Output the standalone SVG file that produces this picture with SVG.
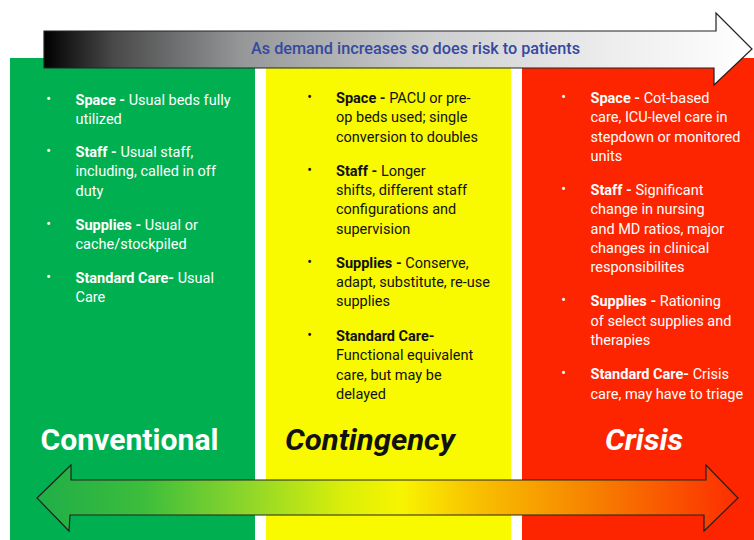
<svg xmlns="http://www.w3.org/2000/svg" width="754" height="540" viewBox="0 0 754 540">
<defs>
<linearGradient id="gTop" x1="44" y1="0" x2="752" y2="0" gradientUnits="userSpaceOnUse">
<stop offset="0" stop-color="#000"/>
<stop offset="0.1" stop-color="#4a4a4a"/>
<stop offset="0.28" stop-color="#959799"/>
<stop offset="0.55" stop-color="#cdcecf"/>
<stop offset="0.8" stop-color="#ededee"/>
<stop offset="1" stop-color="#fff"/>
</linearGradient>
<linearGradient id="gBot" x1="37" y1="0" x2="738" y2="0" gradientUnits="userSpaceOnUse">
<stop offset="0" stop-color="#1fae48"/>
<stop offset="0.15" stop-color="#3cbd3c"/>
<stop offset="0.3" stop-color="#8ed62a"/>
<stop offset="0.44" stop-color="#dcef08"/>
<stop offset="0.52" stop-color="#f8f400"/>
<stop offset="0.62" stop-color="#f8c400"/>
<stop offset="0.8" stop-color="#f77e00"/>
<stop offset="1" stop-color="#fd2d00"/>
</linearGradient>
</defs>
<style>
.body{font-family:Roboto,"Liberation Sans",sans-serif;font-size:14.5px}
.b{font-weight:700}
.bul{font-family:Roboto,"Liberation Sans",sans-serif;font-size:14px;text-anchor:middle}
.head{font-family:Roboto,"Liberation Sans",sans-serif;font-size:29px;font-weight:700}
.wt{fill:#fff}
.bk{fill:#111}
.arrow{stroke:#222;stroke-width:1.2}
</style>
<rect x="0" y="0" width="754" height="540" fill="#fff"/>

<g id="conventional">
<rect x="10" y="58" width="245" height="482" fill="#00b050"/>
<g class="bul wt">
<text x="48.5" y="103.5">•</text>
<text x="48.5" y="156">•</text>
<text x="48.5" y="228.5">•</text>
<text x="48.5" y="282">•</text>
</g>
<text class="body wt" x="75.5">
<tspan x="75.5" y="104.5"><tspan class="b">Space -</tspan> Usual beds fully</tspan>
<tspan x="75.5" y="123.8">utilized</tspan>
<tspan x="75.5" y="157"><tspan class="b">Staff -</tspan> Usual staff,</tspan>
<tspan x="75.5" y="176.3">including, called in off</tspan>
<tspan x="75.5" y="195.6">duty</tspan>
<tspan x="75.5" y="229.5"><tspan class="b">Supplies -</tspan> Usual or</tspan>
<tspan x="75.5" y="248.8">cache/stockpiled</tspan>
<tspan x="75.5" y="283"><tspan class="b">Standard Care-</tspan> Usual</tspan>
<tspan x="75.5" y="302.3">Care</tspan>
</text>
<text class="head wt" x="40.5" y="450" textLength="178" lengthAdjust="spacingAndGlyphs">Conventional</text>
</g>

<g id="contingency">
<rect x="266" y="58" width="245" height="482" fill="#f9fa00"/>
<g class="bul bk">
<text x="309.5" y="102">•</text>
<text x="309.5" y="174.6">•</text>
<text x="309.5" y="266.8">•</text>
<text x="309.5" y="340">•</text>
</g>
<text class="body bk" x="336">
<tspan x="336" y="103"><tspan class="b">Space -</tspan> PACU or pre-</tspan>
<tspan x="336" y="122.3">op beds used; single</tspan>
<tspan x="336" y="141.6">conversion to doubles</tspan>
<tspan x="336" y="175.6"><tspan class="b">Staff -</tspan> Longer</tspan>
<tspan x="336" y="195">shifts, different staff</tspan>
<tspan x="336" y="214.3">configurations and</tspan>
<tspan x="336" y="233.6">supervision</tspan>
<tspan x="336" y="267.8"><tspan class="b">Supplies -</tspan> Conserve,</tspan>
<tspan x="336" y="287.1">adapt, substitute, re-use</tspan>
<tspan x="336" y="306.4">supplies</tspan>
<tspan x="336" y="341"><tspan class="b">Standard Care-</tspan></tspan>
<tspan x="336" y="360.3">Functional equivalent</tspan>
<tspan x="336" y="379.6">care, but may be</tspan>
<tspan x="336" y="398.9">delayed</tspan>
</text>
<text class="head bk" x="285" y="450" font-style="italic" textLength="170" lengthAdjust="spacingAndGlyphs">Contingency</text>
</g>

<g id="crisis">
<rect x="522" y="58" width="232" height="482" fill="#fd2500"/>
<g class="bul wt">
<text x="563.5" y="102">•</text>
<text x="563.5" y="194">•</text>
<text x="563.5" y="305.4">•</text>
<text x="563.5" y="378.2">•</text>
</g>
<text class="body wt" x="590.5">
<tspan x="590.5" y="103"><tspan class="b">Space -</tspan> Cot-based</tspan>
<tspan x="590.5" y="122.3">care, ICU-level care in</tspan>
<tspan x="590.5" y="141.6">stepdown or monitored</tspan>
<tspan x="590.5" y="160.9">units</tspan>
<tspan x="590.5" y="195"><tspan class="b">Staff -</tspan> Significant</tspan>
<tspan x="590.5" y="214.3">change in nursing</tspan>
<tspan x="590.5" y="233.6">and MD ratios, major</tspan>
<tspan x="590.5" y="252.9">changes in clinical</tspan>
<tspan x="590.5" y="272.2">responsibilites</tspan>
<tspan x="590.5" y="306.4"><tspan class="b">Supplies -</tspan> Rationing</tspan>
<tspan x="590.5" y="325.7">of select supplies and</tspan>
<tspan x="590.5" y="345">therapies</tspan>
<tspan x="590.5" y="379.2"><tspan class="b">Standard Care-</tspan> Crisis</tspan>
<tspan x="590.5" y="398.5">care, may have to triage</tspan>
</text>
<text class="head wt" x="605" y="450" font-style="italic" textLength="78" lengthAdjust="spacingAndGlyphs">Crisis</text>
</g>

<g id="connectors">
<g id="risk-arrow">
<path class="arrow" fill="url(#gTop)" d="M44,31 L716,31 L716,13 L752,49 L714,85 L714,68 L44,68 Z"/>
<text x="415.5" y="54" text-anchor="middle" font-family="Roboto,'Liberation Sans',sans-serif" font-size="16" font-weight="500" fill="#3549a0" textLength="329" lengthAdjust="spacingAndGlyphs">As demand increases so does risk to patients</text>
</g>
<path id="scale-arrow" class="arrow" fill="url(#gBot)" d="M37,498 L71,465 L71,480 L706,480 L706,465 L738,498 L704,531 L704,515 L70,515 L69,531 Z"/>
</g>
</svg>
